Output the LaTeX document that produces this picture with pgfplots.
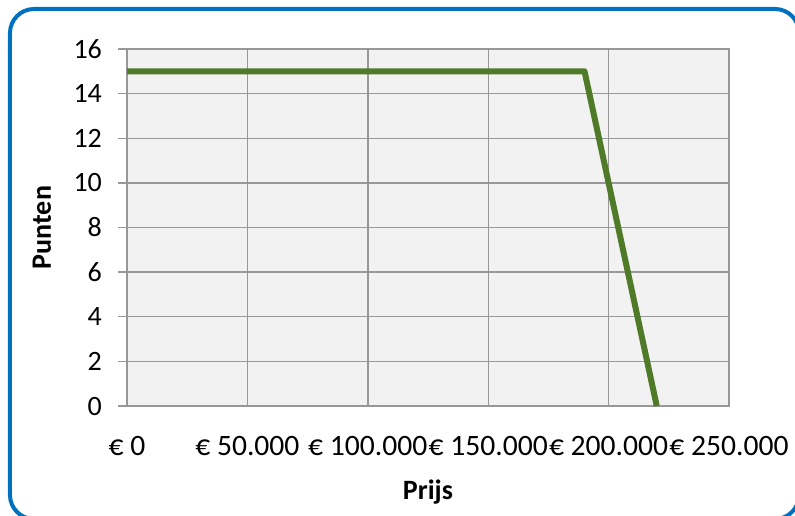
\documentclass[border=0pt]{standalone}
\usepackage{fontspec}
\setmainfont{Carlito}
\usepackage{pgfplots}
\pgfplotsset{compat=1.18}
\definecolor{framblue}{HTML}{0070C0}
\definecolor{lingreen}{HTML}{4F7A28}
\definecolor{plotbg}{HTML}{F2F2F2}
\definecolor{gridgray}{HTML}{989898}
\begin{document}
\begin{tikzpicture}
\draw[framblue, line width=2pt, rounded corners=12pt] (-58.5pt,-56.5pt) rectangle (336pt,198.5pt);
\begin{axis}[
  at={(0,0)}, anchor=south west,
  scale only axis,
  width=301pt, height=178.5pt,
  xmin=0, xmax=250000, ymin=0, ymax=16,
  axis background/.style={fill=plotbg},
  axis line style={gridgray, line width=0.7pt},
  grid=major,
  major grid style={gridgray, line width=0.7pt},
  xtick={0,50000,100000,150000,200000,250000},
  xticklabels={€ 0,€ 50.000,€ 100.000,€ 150.000,€ 200.000,€ 250.000},
  scaled x ticks=false,
  ytick={0,2,...,16},
  xtick style={draw=none},
  ytick style={gridgray, line width=0.7pt},
  tick align=outside,
  major tick length=4.5pt,
  ytick pos=left,
  /pgf/number format/assume math mode=true,
  tick label style={font=\fontsize{14}{16.8}\selectfont, text=black},
  xticklabel style={yshift=-7pt, font=\fontsize{14.8}{17}\selectfont},
  yticklabel style={xshift=-4.5pt},
  xlabel={\bfseries Prijs},
  ylabel={\bfseries Punten},
  label style={font=\fontsize{14}{16.8}\selectfont},
  xlabel style={at={(axis description cs:0.5,-0.241)}, anchor=center},
  ylabel style={at={(axis description cs:-0.1412,0.5)}, anchor=center, rotate=0},
]
\addplot[lingreen, line width=3pt, line join=round] coordinates {(0,15) (190000,15) (220000,0)};
\end{axis}
\pgfresetboundingbox
\path (-63.5pt,-54.5pt) rectangle (334pt,203pt);
\end{tikzpicture}
\end{document}
